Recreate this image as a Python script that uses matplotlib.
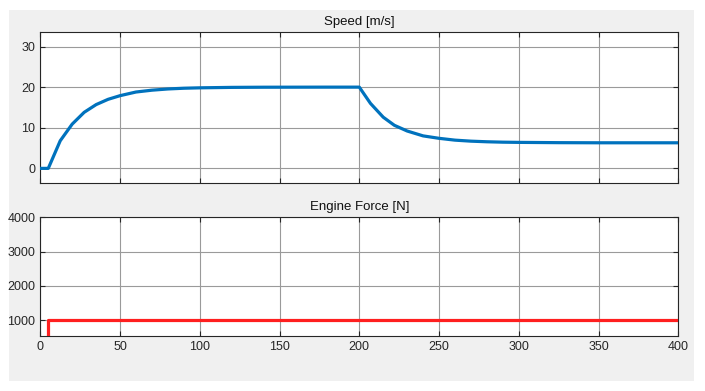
import matplotlib
matplotlib.use("Agg")
import matplotlib.pyplot as plt
from matplotlib.patches import Rectangle

# ---- data ----
speed_t = [0, 5, 12.5, 20, 27.5, 35, 42.5, 50, 60, 70, 80, 90, 100, 120, 140,
           160, 180, 200, 207, 215, 222, 230, 240, 250, 260, 270, 280, 290,
           300, 325, 350, 375, 400]
speed_v = [0, 0, 6.8, 10.9, 13.8, 15.7, 17.0, 17.9, 18.8, 19.25, 19.55, 19.73,
           19.83, 19.94, 19.98, 19.99, 20.0, 20.0, 16.0, 12.6, 10.6, 9.2, 8.0,
           7.4, 6.95, 6.7, 6.55, 6.45, 6.4, 6.33, 6.3, 6.3, 6.3]
force_t = [0, 4.8, 400]
force_v = [0, 1000, 1000]

x_ticks = [0, 50, 100, 150, 200, 250, 300, 350, 400]
speed_ticks = [0, 10, 20, 30]
force_ticks = [1000, 2000, 3000, 4000]

plt.rcParams['font.family'] = ['Liberation Sans', 'DejaVu Sans']

W, H = 705, 391
fig = plt.figure(figsize=(W / 100, H / 100), dpi=100, facecolor='white')
fig.patches.append(Rectangle((9 / W, 1 - 381 / H), (694 - 9) / W, (381 - 10) / H,
                             transform=fig.transFigure, facecolor='#f0f0f0',
                             edgecolor='none', zorder=-10))

def fpos(l, t, r, b):
    return [l / W, 1 - b / H, (r - l) / W, (b - t) / H]

ax1 = fig.add_axes(fpos(40.3, 32.3, 678.3, 183))
ax2 = fig.add_axes(fpos(40.3, 217.3, 678.3, 336))

txt = '#262626'
for ax in (ax1, ax2):
    ax.set_facecolor('white')
    ax.set_xlim(0, 400)
    ax.set_xticks(x_ticks)
    ax.grid(True, color='#9a9a9a', linewidth=0.8)
    ax.set_axisbelow(True)
    ax.tick_params(direction='in', top=True, right=True, length=3.5,
                   width=0.8, colors=txt, labelsize=9, labelcolor=txt)
    for s in ax.spines.values():
        s.set_color(txt)
        s.set_linewidth(0.8)

ax1.plot(speed_t, speed_v, color='#0072BD', linewidth=2.3, zorder=3)
ax1.set_ylim(-3.6, 33.5)
ax1.set_yticks(speed_ticks)
ax1.tick_params(labelbottom=False)
ax1.set_title('Speed [m/s]', fontsize=9.5, color='#111111', pad=5)

ax2.plot(force_t, force_v, color='#ff1f1f', linewidth=2.3, drawstyle='steps-post',
         zorder=3, clip_on=True)
ax2.set_ylim(533, 4000)
ax2.set_yticks(force_ticks)
ax2.set_title('Engine Force [N]', fontsize=9.5, color='#111111', pad=5)

fig.savefig('out.png', dpi=100, facecolor='white')
